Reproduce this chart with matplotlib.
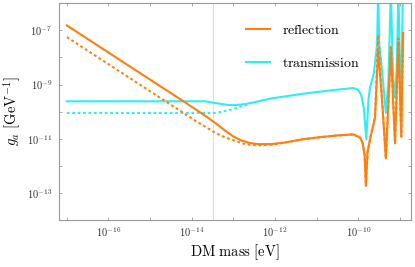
import matplotlib
matplotlib.use("Agg")
import matplotlib.pyplot as plt
import numpy as np

plt.rcParams['mathtext.fontset'] = 'cm'

# log10(mass [eV]) and log10(g_a [GeV^-1])
refl_logm = [-17.0, -14.2, -13.67, -13.4, -13.2, -13.0, -12.8, -12.6, -12.4, -12.1,
             -11.76, -11.33, -10.9, -10.51, -10.12, -9.96, -9.90, -9.85, -9.82,
             -9.78, -9.71, -9.60, -9.525, -9.43, -9.34, -9.22, -9.12, -9.04, -8.97, -8.925]
refl_logg = [-6.82, -9.62, -10.16, -10.46, -10.70, -10.92, -11.07, -11.16, -11.20, -11.20,
             -11.14, -11.02, -10.94, -10.88, -10.84, -10.96, -11.15, -11.6, -12.73,
             -11.5, -10.95, -10.2, -7.73, -9.6, -11.73, -7.73, -11.17, -7.43, -10.92, -7.1]

refl_d_logm = [-17.0, -14.2, -13.91, -13.44, -13.2, -12.96, -12.72, -12.41, -12.1,
               -11.76, -11.33, -10.9, -10.51, -10.12, -9.96, -9.90, -9.85, -9.82,
               -9.78, -9.71, -9.60, -9.525, -9.43, -9.34, -9.22, -9.12, -9.04, -8.97, -8.925]
refl_d_logg = [-7.25, -10.05, -10.34, -10.78, -10.95, -11.08, -11.20, -11.25, -11.22,
               -11.14, -11.02, -10.94, -10.88, -10.84, -10.96, -11.15, -11.6, -12.73,
               -11.5, -10.95, -10.2, -7.18, -9.6, -11.73, -7.55, -11.17, -7.3, -10.92, -7.0]

trans_logm = [-17.0, -13.68, -13.45, -13.15, -12.95, -12.7, -12.4, -12.12, -11.76, -11.33,
              -10.9, -10.51, -10.12, -10.0, -9.93, -9.87, -9.81, -9.76, -9.72, -9.63,
              -9.55, -9.525, -9.50, -9.44, -9.34, -9.28, -9.22, -9.17, -9.12, -9.08, -9.04,
              -9.00, -8.97, -8.93]
trans_logg = [-9.62, -9.62, -9.68, -9.75, -9.76, -9.72, -9.62, -9.52, -9.44, -9.34,
              -9.26, -9.19, -9.13, -9.2, -9.4, -9.85, -11.02, -9.6, -9.1, -8.6,
              -7.5, -5.5, -7.48, -8.35, -10.05, -8.94, -5.5, -8.6, -9.48, -8.5, -5.5,
              -8.4, -9.26, -5.5]

trans_d_logm = [-17.0, -13.45, -13.25, -13.0, -12.8, -12.64]
trans_d_logg = [-10.05, -10.05, -10.0, -9.9, -9.8, -9.74]

vline_logm = -13.48

xlim_log = (-17.18, -8.74)
ylim_log = (-14.0, -6.0)

xtick_exps = [-16, -14, -12, -10]
ytick_exps = [-7, -9, -11, -13]

orange = '#FF7F0E'
cyan = '#2EEEF2'

fig = plt.figure(figsize=(4.15, 2.67), dpi=100)
ax = fig.add_axes([0.143, 0.176, 0.847, 0.812])

def p(a):
    return 10.0 ** np.asarray(a)

ax.axvline(p(vline_logm), color='#dddddd', lw=0.7, zorder=0)

ax.plot(p(trans_logm), p(trans_logg), color=cyan, lw=1.5, zorder=2,
        label=r'$\mathrm{transmission}$')
ax.plot(p(trans_d_logm), p(trans_d_logg), color=cyan, lw=1.5, ls=(0, (1.3, 1.3)), zorder=2)
ax.plot(p(refl_d_logm), p(refl_d_logg), color=orange, lw=1.5, ls=(0, (1.3, 1.3)), zorder=3)
ax.plot(p(refl_logm), p(refl_logg), color=orange, lw=1.5, zorder=4,
        label=r'$\mathrm{reflection}$')

ax.set_xscale('log')
ax.set_yscale('log')
ax.set_xlim(p(xlim_log[0]), p(xlim_log[1]))
ax.set_ylim(p(ylim_log[0]), p(ylim_log[1]))

ax.set_xticks(p(np.arange(-17, -8)))
ax.set_xticklabels([r'$\mathsf{10^{%d}}$' % e if e in xtick_exps else '' for e in range(-17, -8)])
ax.set_yticks(p(np.arange(-14, -5)))
ax.set_yticklabels([r'$\mathsf{10^{%d}}$' % e if e in ytick_exps else '' for e in range(-14, -5)])
ax.minorticks_off()
ax.tick_params(which='both', direction='in', length=2.5, width=0.6, color='#999999',
               labelsize=7.5, labelcolor='#333333', top=True, right=True)
ax.tick_params(axis='x', pad=3.5)
ax.tick_params(axis='y', pad=5)

for s in ax.spines.values():
    s.set_color('#999999')
    s.set_linewidth(0.8)

ax.set_xlabel(r'$\mathrm{DM\ mass\ [eV]}$', fontsize=10.5, labelpad=3)
ax.set_ylabel(r'$g_a\ [\mathrm{GeV}^{-1}]$', fontsize=10.5, labelpad=3)

h, l = ax.get_legend_handles_labels()
ax.legend(h[::-1], l[::-1], loc='upper left', bbox_to_anchor=(0.515, 0.935), frameon=False,
          fontsize=10, handlelength=1.7, handletextpad=0.9, labelspacing=1.35,
          borderaxespad=0)

fig.savefig('out.png', dpi=100)
